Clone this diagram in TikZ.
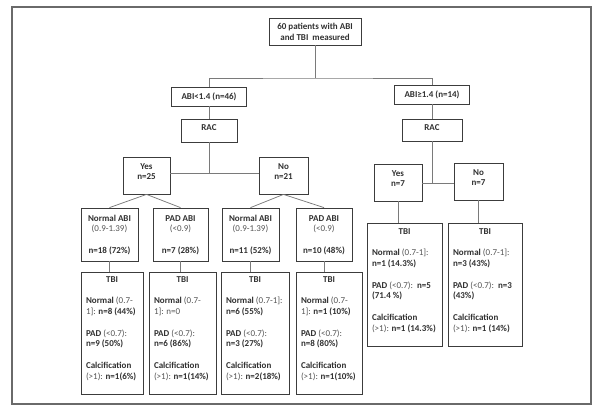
\documentclass[tikz,border=0pt]{standalone}
\usepackage{fontspec}
\setmainfont{Carlito}
\definecolor{txt}{HTML}{303030}
\definecolor{soft}{HTML}{555555}
\definecolor{edge}{HTML}{3C3C3C}
\definecolor{conncol}{HTML}{7A7A7A}
\definecolor{framecol}{HTML}{6A6A6A}
\newcommand\cbx[4]{\parbox[c][#2][t]{#1}{\centering\rule{0pt}{#3}#4}}
\newcommand\tbibox[4]{\parbox[c][#2][t]{#1}{\centering\rule{0pt}{#3}\textbf{TBI}\par\vspace{\baselineskip}\raggedright\leftskip=5pt\relax #4}}
\newcommand\sft[1]{\textmd{\color{soft}#1}}
\tikzset{
  box/.style={draw=edge, line width=0.8pt, rectangle, inner sep=0pt, text=txt,
    font=\fontsize{9}{10.8}\selectfont\bfseries},
  conn/.style={draw=conncol, line width=0.75pt},
  frame/.style={draw=framecol, line width=1.3pt}
}
\begin{document}
\begin{tikzpicture}[x=1pt,y=-1pt]
\useasboundingbox (0,0) rectangle (605,410);
\draw[frame] (12,7) rectangle (591,404);

% level 0
\node[box] (top) at (315,31.5) {\cbx{92pt}{27pt}{11.6pt}{60 patients with ABI\\and TBI\ \ measured}};
% level 1
\node[box] (abiL) at (209,96.5) {\cbx{75pt}{19pt}{12.4pt}{ABI<1.4 (n=46)}};
\node[box] (abiR) at (432,94.5) {\cbx{75pt}{19pt}{12.4pt}{ABI≥1.4 (n=14)}};
\node[box] (racL) at (209,130.5) {\cbx{56pt}{23pt}{11pt}{RAC}};
\node[box] (racR) at (432,130) {\cbx{60pt}{22pt}{11pt}{RAC}};
% level 2
\node[box] (yesL) at (146.5,175.5) {\cbx{47pt}{37pt}{12pt}{Yes\\n=25}};
\node[box] (noL) at (283.5,175.5) {\cbx{49pt}{37pt}{12pt}{No\\n=21}};
\node[box] (yesR) at (398,182.5) {\cbx{48pt}{37pt}{12pt}{Yes\\n=7}};
\node[box] (noR) at (478.5,181.5) {\cbx{49pt}{37pt}{12pt}{No\\n=7}};
% level 3
\node[box] (nA1) at (109.5,234.5) {\cbx{57pt}{53pt}{13.1pt}{Normal ABI\\\sft{(0.9-1.39)}\\[10.8pt]n=18 (72\%)}};
\node[box] (pA1) at (180.5,234.5) {\cbx{55pt}{53pt}{13.1pt}{PAD ABI\\\sft{(<0.9)}\\[10.8pt]n=7 (28\%)}};
\node[box] (nA2) at (250.5,234.5) {\cbx{57pt}{53pt}{13.1pt}{Normal ABI\\\sft{(0.9-1.39)}\\[10.8pt]n=11 (52\%)}};
\node[box] (pA2) at (324,234.5) {\cbx{56pt}{53pt}{13.1pt}{PAD ABI\\\sft{(<0.9)}\\[10.8pt]n=10 (48\%)}};
% TBI boxes
\node[box] (t1) at (112,333) {\tbibox{62pt}{122pt}{10pt}{Normal \sft{(0.7-}\\\sft{1]:} n=8 (44\%)\\[10.8pt]PAD \sft{(<0.7):}\\n=9 (50\%)\\[10.8pt]Calcification\\\sft{(>1):} n=1(6\%)}};
\node[box] (t2) at (182.5,333) {\tbibox{67pt}{122pt}{10pt}{Normal \sft{(0.7-}\\\sft{1]: n=0}\\[10.8pt]PAD \sft{(<0.7):}\\n=6 (86\%)\\[10.8pt]Calcification\\\sft{(>1):} n=1(14\%)}};
\node[box] (t3) at (255,333) {\tbibox{68pt}{122pt}{10pt}{Normal \sft{(0.7-1]:}\\n=6 (55\%)\\[10.8pt]PAD \sft{(<0.7):}\\n=3 (27\%)\\[10.8pt]Calcification\\\sft{(>1):} n=2(18\%)}};
\node[box] (t4) at (329,333) {\tbibox{66pt}{122pt}{10pt}{Normal \sft{(0.7-}\\\sft{1]:} n=1 (10\%)\\[10.8pt]PAD \sft{(<0.7):}\\n=8 (80\%)\\[10.8pt]Calcification\\\sft{(>1):} n=1(10\%)}};
\node[box] (t5) at (404.5,284.5) {\tbibox{75pt}{123pt}{11pt}{Normal \sft{(0.7-1]:}\\n=1 (14.3\%)\\[10.8pt]PAD \sft{(<0.7):}\ \ n=5\\(71.4 \%)\\[10.8pt]Calcification\\\sft{(>1):} n=1 (14.3\%)}};
\node[box] (t6) at (485,284.5) {\tbibox{74pt}{123pt}{11pt}{Normal \sft{(0.7-1]:}\\n=3 (43\%)\\[10.8pt]PAD \sft{(<0.7):}\ \ n=3\\(43\%)\\[10.8pt]Calcification\\\sft{(>1):} n=1 (14\%)}};

% connectors
\coordinate (bar) at (315,78);
\draw[conn] (top.south) -- (bar);
\draw[conn] (abiL.north) |- (bar) -| (abiR.north);
\draw[conn] (abiL.south) -- (racL.north);
\draw[conn] (abiR.south) -- (racR.north);
\coordinate (jL) at (209,173);
\coordinate (jR) at (432,183);
\draw[conn] (racL.south) -- (jL);
\draw[conn] (yesL.east |- jL) -- (noL.west |- jL);
\draw[conn] (racR.south) -- (jR);
\draw[conn] (yesR.east |- jR) -- (noR.west |- jR);
\draw[conn] (yesL.south) -- (nA1.north);
\draw[conn] (yesL.south) -- (pA1.north);
\draw[conn] (noL.south) -- (nA2.north);
\draw[conn] (noL.south) -- (pA2.north);
\draw[conn] (nA1.south) -- (nA1.south |- t1.north);
\draw[conn] (pA1.south) -- (pA1.south |- t2.north);
\draw[conn] (nA2.south) -- (nA2.south |- t3.north);
\draw[conn] (pA2.south) -- (pA2.south |- t4.north);
\draw[conn] (yesR.south) -- (yesR.south |- t5.north);
\draw[conn] (noR.south) -- (noR.south |- t6.north);
\end{tikzpicture}
\end{document}
